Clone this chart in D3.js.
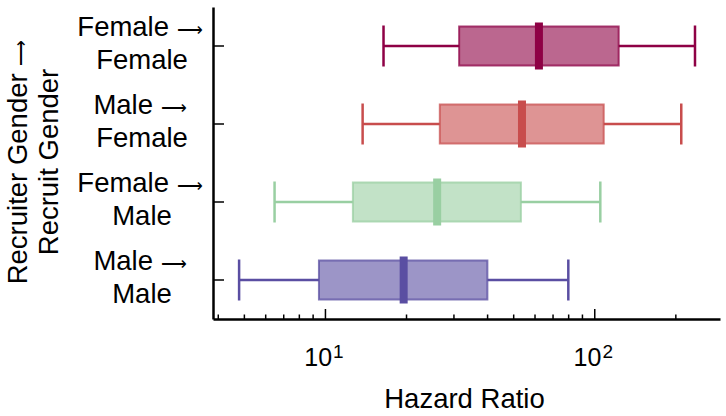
<!DOCTYPE html>
<html>
<head>
<meta charset="utf-8">
<script src="https://cdn.jsdelivr.net/npm/d3@7"></script>
<style>
  html, body { margin: 0; padding: 0; background: #fff; }
  svg { display: block; font-family: "Liberation Sans", Arial, sans-serif; }
  tspan.arrow { font-family: "DejaVu Sans", sans-serif; font-weight: 200; }
</style>
</head>
<body>
<svg id="chart" width="726" height="416"></svg>
<script>
// ---- data (bottom-to-top order) ----
const categories = ["Male→Male", "Female→Male", "Male→Female", "Female→Female"];
const labelLine1 = ["Male", "Female", "Male", "Female"];
const labelLine2 = ["Male", "Male", "Female", "Female"];
const whiskerLow  = [4.8, 6.5, 13.8, 16.5];
const q1          = [9.5, 12.7, 26.7, 31.5];
const medians     = [19.6, 26.1, 53.9, 62.3];
const q3          = [40.1, 53.4, 108.4, 123.2];
const whiskerHigh = [80.1, 105.3, 210.4, 236.6];
const colors      = ["#5a4ea2", "#99cfa2", "#c84d4d", "#8e0145"];
const majorTicks  = [10, 100];
const majorExp    = ["1", "2"];
const minorTicks  = [4, 5, 6, 7, 8, 9, 20, 30, 40, 50, 60, 70, 80, 90, 200];
const xDomain     = [3.84, 293];
const yTitle1     = "Recruiter Gender";
const yTitle2     = "Recruit Gender";
const xTitle      = "Hazard Ratio";
const ARROW       = "\u27F6";

(function () {
const svg = d3.select("#chart");
const mLeft = 213, mRight = 720, mTop = 7, mBottom = 319;
const FS = 27.5, AFS = 17.5;

const x = d3.scaleLog().domain(xDomain).range([mLeft, mRight]);
const y = d3.scaleBand().domain(categories).range([mBottom, mTop]).padding(0);
const bw = y.bandwidth();
const cy = c => y(c) + bw / 2;

const rows = categories.map((c, i) => ({
  c, lo: whiskerLow[i], q1: q1[i], med: medians[i], q3: q3[i], hi: whiskerHigh[i],
  color: colors[i], l1: labelLine1[i], l2: labelLine2[i]
}));

const boxH = 39, capH = 41, medH = 47, medW = 8;

const g = svg.append("g");
rows.forEach(r => {
  const yc = cy(r.c);
  g.append("line").attr("x1", x(r.lo)).attr("x2", x(r.q1)).attr("y1", yc).attr("y2", yc)
    .attr("stroke", r.color).attr("stroke-width", 2.5);
  g.append("line").attr("x1", x(r.q3)).attr("x2", x(r.hi)).attr("y1", yc).attr("y2", yc)
    .attr("stroke", r.color).attr("stroke-width", 2.5);
  [r.lo, r.hi].forEach(v => {
    g.append("line").attr("x1", x(v)).attr("x2", x(v)).attr("y1", yc - capH / 2).attr("y2", yc + capH / 2)
      .attr("stroke", r.color).attr("stroke-width", 2.5);
  });
  g.append("rect").attr("x", x(r.q1)).attr("width", x(r.q3) - x(r.q1))
    .attr("y", yc - boxH / 2).attr("height", boxH)
    .attr("fill", r.color).attr("fill-opacity", 0.6)
    .attr("stroke", r.color).attr("stroke-opacity", 0.75).attr("stroke-width", 2);
  g.append("rect").attr("x", x(r.med) - medW / 2).attr("width", medW)
    .attr("y", yc - medH / 2).attr("height", medH)
    .attr("fill", r.color);
});

const xAxis = svg.append("g").attr("transform", `translate(0,${mBottom})`)
  .call(d3.axisBottom(x).tickValues(majorTicks).tickSizeInner(-10).tickSizeOuter(0).tickFormat(""));
xAxis.select(".domain").attr("stroke", "#000").attr("stroke-width", 2.5);
xAxis.selectAll(".tick line").attr("stroke", "#000").attr("stroke-width", 1.5);
const xMinor = svg.append("g").attr("transform", `translate(0,${mBottom})`)
  .call(d3.axisBottom(x).tickValues(minorTicks).tickSizeInner(-4.5).tickSizeOuter(0).tickFormat(""));
xMinor.select(".domain").remove();
xMinor.selectAll(".tick line").attr("stroke", "#000").attr("stroke-width", 1.5);

majorTicks.forEach((v, i) => {
  const t = svg.append("text").attr("x", x(v) - 1).attr("y", 366)
    .attr("text-anchor", "middle").attr("font-size", 25).attr("fill", "#000");
  t.append("tspan").text("10");
  t.append("tspan").attr("dx", 1).attr("dy", -8).attr("font-size", 19).text(majorExp[i]);
});

const yAxis = svg.append("g").attr("transform", `translate(${mLeft},0)`)
  .call(d3.axisLeft(y).tickSizeInner(-11).tickSizeOuter(0).tickFormat(""));
yAxis.select(".domain").attr("stroke", "#000").attr("stroke-width", 2.5);
yAxis.selectAll(".tick line").attr("stroke", "#000").attr("stroke-width", 1.5);

rows.forEach(r => {
  const yc = cy(r.c);
  const t1 = svg.append("text").attr("x", 140).attr("y", yc - 10.5).attr("text-anchor", "middle")
    .attr("font-size", FS).attr("fill", "#000");
  t1.append("tspan").text(r.l1 + " ");
  t1.append("tspan").attr("class", "arrow").attr("font-size", AFS).text(ARROW);
  svg.append("text").attr("x", 142).attr("y", yc + 22.5).attr("text-anchor", "middle")
    .attr("font-size", FS).attr("fill", "#000").text(r.l2);
});

const yt = svg.append("g").attr("transform", "translate(0,162) rotate(-90)");
const yt1 = yt.append("text").attr("x", 0).attr("y", 27).attr("text-anchor", "middle")
  .attr("font-size", FS).attr("fill", "#000");
yt1.append("tspan").text(yTitle1 + " ");
yt1.append("tspan").attr("class", "arrow").attr("font-size", AFS).text(ARROW);
yt.append("text").attr("x", 0).attr("y", 58).attr("text-anchor", "middle")
  .attr("font-size", FS).attr("fill", "#000").text(yTitle2);

svg.append("text").attr("x", (mLeft + mRight) / 2 - 2).attr("y", 408).attr("text-anchor", "middle")
  .attr("font-size", FS).attr("fill", "#000").text(xTitle);
})();
</script>
</body>
</html>
